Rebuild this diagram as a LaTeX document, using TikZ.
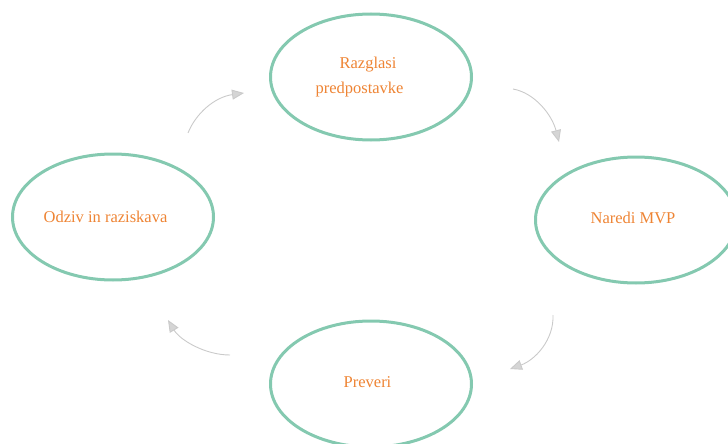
\documentclass[tikz,border=0pt]{standalone}
\usepackage{fontspec}
\setmainfont{Liberation Serif}
\usetikzlibrary{shapes.geometric,arrows.meta}
\definecolor{ringc}{HTML}{84C9B0}
\definecolor{txtc}{HTML}{EE8434}
\definecolor{arrc}{HTML}{CACACA}
\tikzset{
  ring/.style={ellipse, draw=ringc, line width=3pt, inner sep=0pt, minimum width=201pt, minimum height=126pt},
  lbl/.style={text=txtc, font=\fontsize{16.5pt}{25pt}\selectfont, inner sep=0pt},
  flow/.style={draw=arrc, line width=0.9pt, -{Triangle[length=12pt,width=10pt,fill=arrc!80]}}
}
\begin{document}
\begin{tikzpicture}[x=1pt,y=-1pt]
\useasboundingbox (0,0) rectangle (728,444);
\node[ring] (top) at (371,77) {};
\node[ring] (right) at (636,220) {};
\node[ring] (bottom) at (371,384) {};
\node[ring] (left) at (113,217) {};
\node[lbl] (t1) at (368,65) {Razglasi};
\node[lbl] (t2) at (359.5,90) {predpostavke};
\node[lbl] (tr) at (633,218) {Naredi MVP};
\node[lbl] (tb) at (367.5,382) {Preveri};
\node[lbl] (tl) at (105.5,217) {Odziv in raziskava};
\coordinate (a1s) at (188,133); \coordinate (a1e) at (244,93);
\coordinate (a2s) at (513,89); \coordinate (a2e) at (559,142);
\coordinate (a3s) at (553,315); \coordinate (a3e) at (510,369);
\coordinate (a4s) at (230,355); \coordinate (a4e) at (168,320);
\draw[flow] (a1s) .. controls (196,113) and (215,97) .. (a1e);
\draw[flow] (a2s) .. controls (535,93) and (552,115) .. (a2e);
\draw[flow] (a3s) .. controls (554,340) and (535,360) .. (a3e);
\draw[flow] (a4s) .. controls (205,355) and (180,340) .. (a4e);
\end{tikzpicture}
\end{document}
